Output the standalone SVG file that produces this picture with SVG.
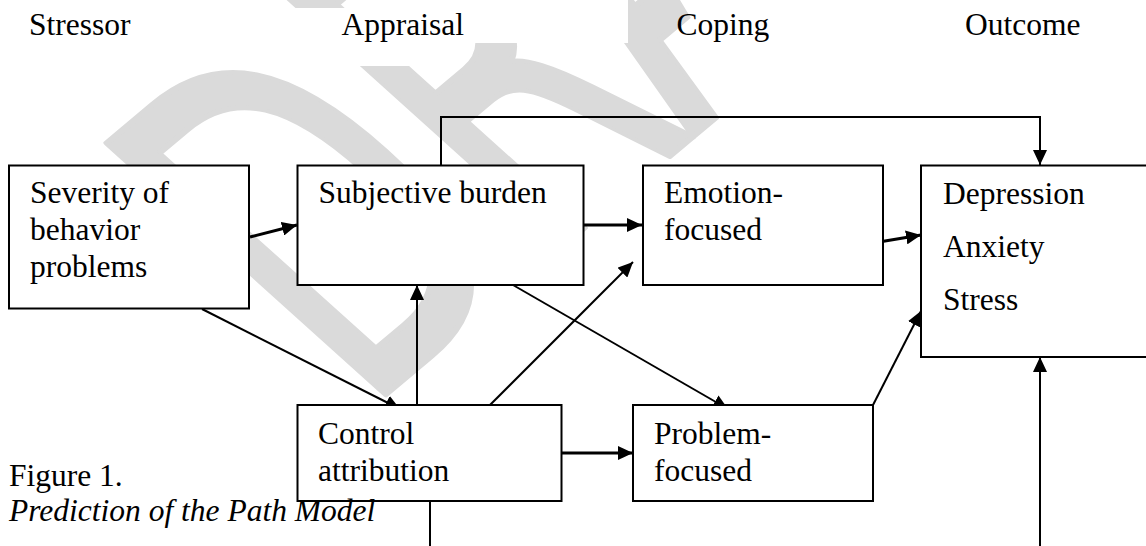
<svg xmlns="http://www.w3.org/2000/svg" width="1146" height="546" viewBox="0 0 1146 546">
  <style>
    .lbl { font-family: "Liberation Serif", "Times New Roman", serif; font-size: 31.5px; fill: #000; }
    .box { fill: #fff; stroke: #000; stroke-width: 2; }
    .ln { fill: none; stroke: #000; stroke-width: 2; }
    .thick { stroke-width: 3; }
    .wm { font-family: "DejaVu Sans", sans-serif; font-size: 510px; fill: #dadada; stroke: #dadada; stroke-width: 6; stroke-linejoin: round; }
  </style>
  <defs>
    <marker id="ah" viewBox="0 0 15 14" refX="15" refY="7" markerWidth="15" markerHeight="14" orient="auto" markerUnits="userSpaceOnUse">
      <path d="M0,0 L15,7 L0,14 Z" fill="#000"/>
    </marker>
    <clipPath id="wmclip">
      <path d="M0,70 H227 V66 H435 V43 H628 V0 H680 L707,45 H900 V0 H1146 V546 H0 Z M227,0 H435 V8 H227 Z"/>
    </clipPath>
  </defs>
  <rect width="1146" height="546" fill="#fff"/>

  <g id="watermark" clip-path="url(#wmclip)">
    <text class="wm" transform="translate(362.4,414) rotate(-40) skewX(8) scale(0.59,1)">DRAFT</text>
  </g>

  <g id="headers">
    <text class="lbl" x="29" y="35">Stressor</text>
    <text class="lbl" x="341.5" y="35">Appraisal</text>
    <text class="lbl" x="676.5" y="35">Coping</text>
    <text class="lbl" x="965" y="35">Outcome</text>
  </g>

  <g id="connectors">
    <path class="ln thick" d="M250,237 L297,225" marker-end="url(#ah)"/>
    <path class="ln thick" d="M584,225 L642,225" marker-end="url(#ah)"/>
    <path class="ln thick" d="M873,243 L921,235" marker-end="url(#ah)"/>
    <path class="ln" d="M441,165 V117 H1040 V165" marker-end="url(#ah)"/>
    <path class="ln" d="M202,309 L400,409" marker-end="url(#ah)"/>
    <path class="ln" d="M417,405 L417,285" marker-end="url(#ah)"/>
    <path class="ln" d="M490,405 L633,262" marker-end="url(#ah)"/>
    <path class="ln" d="M513,285 L728,409" marker-end="url(#ah)"/>
    <path class="ln" d="M873,405 L921,311" marker-end="url(#ah)"/>
    <path class="ln thick" d="M561,453 L633,453" marker-end="url(#ah)"/>
    <path class="ln" d="M430,501 L430,546"/>
    <path class="ln" d="M1040,546 L1040,357" marker-end="url(#ah)"/>
  </g>

  <g id="node-severity">
    <rect class="box" x="9" y="165.5" width="240" height="143"/>
    <text class="lbl" x="30" y="203.3">Severity of</text>
    <text class="lbl" x="30" y="240">behavior</text>
    <text class="lbl" x="30" y="276.5">problems</text>
  </g>

  <g id="node-subjective">
    <rect class="box" x="297.5" y="165.5" width="286" height="119.5"/>
    <text class="lbl" x="318.5" y="203.3">Subjective burden</text>
  </g>

  <g id="node-emotion">
    <rect class="box" x="643" y="165.5" width="240" height="119.5"/>
    <text class="lbl" x="664" y="203.3">Emotion-</text>
    <text class="lbl" x="664" y="240">focused</text>
  </g>

  <g id="node-outcome">
    <rect class="box" x="921" y="165.5" width="240" height="191.5"/>
    <text class="lbl" x="943" y="203.5">Depression</text>
    <text class="lbl" x="943" y="256.5">Anxiety</text>
    <text class="lbl" x="943" y="309.5">Stress</text>
  </g>

  <g id="node-control">
    <rect class="box" x="297.5" y="405" width="264" height="96"/>
    <text class="lbl" x="318" y="444">Control</text>
    <text class="lbl" x="318" y="480.5">attribution</text>
  </g>

  <g id="node-problem">
    <rect class="box" x="633" y="405" width="240" height="96"/>
    <text class="lbl" x="654" y="444.3">Problem-</text>
    <text class="lbl" x="654" y="481">focused</text>
  </g>

  <g id="caption">
    <text class="lbl" x="9" y="486">Figure 1.</text>
    <text class="lbl" x="9" y="521" font-style="italic">Prediction of the Path Model</text>
  </g>
</svg>
